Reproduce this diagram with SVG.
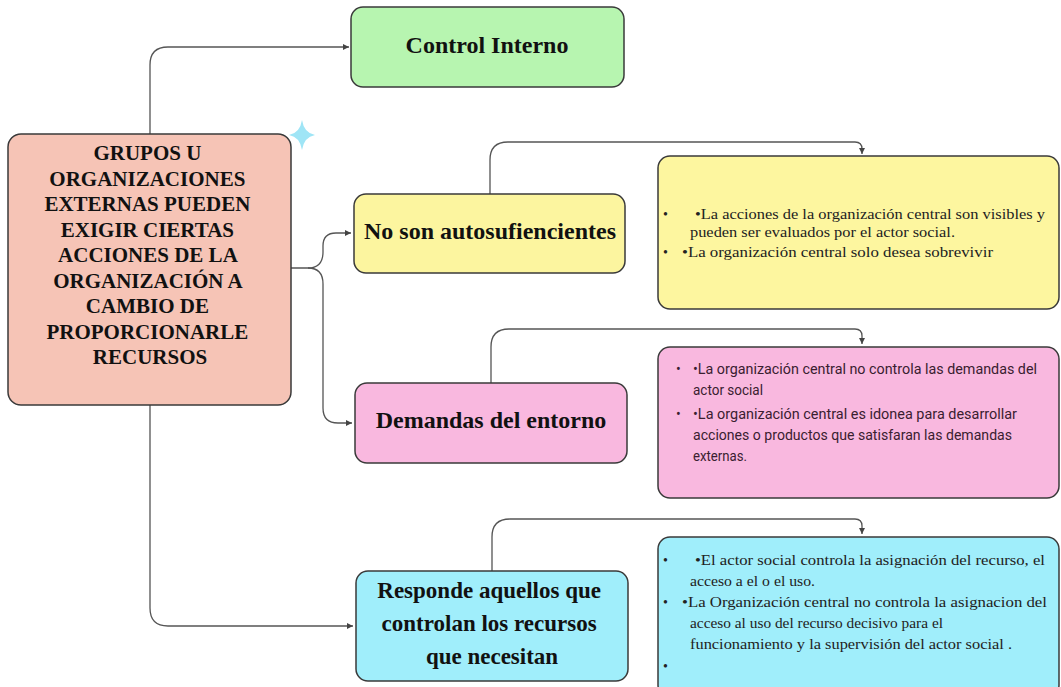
<svg xmlns="http://www.w3.org/2000/svg" width="1061" height="687" viewBox="0 0 1061 687">
<defs>
<marker id="arr" markerWidth="8" markerHeight="8" refX="6" refY="3" orient="auto" markerUnits="userSpaceOnUse">
<path d="M0,0 L6,3 L0,6 z" fill="#444"/>
</marker>
<style>
.box{stroke:#3a3a3a;stroke-width:1.5}
.conn{fill:none;stroke:#555;stroke-width:1.3}
.title{font-family:"Liberation Serif",serif;font-weight:bold;fill:#111;text-anchor:middle}
.det{font-family:"Liberation Serif",serif;font-size:14px;fill:#222}
.dets{font-family:Roboto,"Noto Sans",sans-serif;font-size:14px;fill:#3a2030}
</style>
</defs>
<rect width="1061" height="687" fill="#ffffff"/>

<g id="connectors">
<path class="conn" d="M150,134 V65 Q150,47 168,47 H349" marker-end="url(#arr)"/>
<path class="conn" d="M150,404 V608 Q150,626 168,626 H353" marker-end="url(#arr)"/>
<path class="conn" d="M291,268 H308 Q323,268 323,252 V246 Q323,233 336,233 H351" marker-end="url(#arr)"/>
<path class="conn" d="M308,268 Q323,268 323,284 V408 Q323,423 338,423 H352" marker-end="url(#arr)"/>
<path class="conn" d="M490,194 V160 Q490,142 508,142 H855 Q862,142 862,149 V154" marker-end="url(#arr)"/>
<path class="conn" d="M491,383 V347 Q491,329 509,329 H855 Q862,329 862,336 V344" marker-end="url(#arr)"/>
<path class="conn" d="M492,571 V537 Q492,519 510,519 H855 Q862,519 862,526 V534" marker-end="url(#arr)"/>
</g>

<g id="star">
<path d="M302,120 Q304,133 315,135 Q304,137 302,150 Q300,137 289,135 Q300,133 302,120 z" fill="#9fe5f6"/>
</g>

<g id="main">
<rect class="box" x="8" y="134" width="283" height="271" rx="13" fill="#f6c4b6"/>
<text class="title" font-size="21" x="150">
<tspan x="150" y="160">GRUPOS U</tspan>
<tspan x="150" y="185.5">ORGANIZACIONES</tspan>
<tspan x="150" y="211">EXTERNAS PUEDEN</tspan>
<tspan x="150" y="236.5">EXIGIR CIERTAS</tspan>
<tspan x="150" y="262">ACCIONES DE LA</tspan>
<tspan x="150" y="287.5">ORGANIZACIÓN A</tspan>
<tspan x="150" y="313">CAMBIO DE</tspan>
<tspan x="150" y="338.5">PROPORCIONARLE</tspan>
<tspan x="150" y="364">RECURSOS</tspan>
</text>
</g>

<g id="control-interno">
<rect class="box" x="351" y="7" width="273" height="80" rx="12" fill="#b7f5b0"/>
<text class="title" font-size="24" x="487" y="53">Control Interno</text>
</g>

<g id="no-son">
<rect class="box" x="354" y="194" width="271" height="79" rx="12" fill="#fcf59f"/>
<text class="title" font-size="24" x="490" y="239">No son autosufiencientes</text>
</g>

<g id="demandas">
<rect class="box" x="355" y="383" width="272" height="80" rx="12" fill="#f9b8df"/>
<text class="title" font-size="24" x="491" y="428">Demandas del entorno</text>
</g>

<g id="responde">
<rect class="box" x="356" y="571" width="272" height="110" rx="12" fill="#a0eefb"/>
<text class="title" font-size="23">
<tspan x="492" y="598">Responde aquellos que</tspan>
<tspan x="492" y="631">controlan los recursos</tspan>
<tspan x="492" y="664">que necesitan</tspan>
</text>
</g>

<g id="detalle-no-son">
<rect class="box" x="658" y="156" width="401" height="153" rx="12" fill="#fdf69f"/>
<text class="det" x="663" y="219">•</text>
<text class="det" x="695" y="219" textLength="350" lengthAdjust="spacingAndGlyphs">•La acciones de la organización central son visibles y</text>
<text class="det" x="690" y="237" textLength="265" lengthAdjust="spacingAndGlyphs">pueden ser evaluados por el actor social.</text>
<text class="det" x="663" y="257">•</text>
<text class="det" x="682" y="257" textLength="311" lengthAdjust="spacingAndGlyphs">•La organización central solo desea sobrevivir</text>
</g>

<g id="detalle-demandas">
<rect class="box" x="658" y="347" width="401" height="151" rx="12" fill="#f9b8df"/>
<text class="dets" x="676" y="374">•</text>
<text class="dets" x="693" y="374" textLength="344" lengthAdjust="spacingAndGlyphs">•La organización central no controla las demandas del</text>
<text class="dets" x="693" y="395" textLength="70" lengthAdjust="spacingAndGlyphs">actor social</text>
<text class="dets" x="676" y="419">•</text>
<text class="dets" x="693" y="419" textLength="324" lengthAdjust="spacingAndGlyphs">•La organización central es idonea para desarrollar</text>
<text class="dets" x="693" y="440" textLength="319" lengthAdjust="spacingAndGlyphs">acciones o productos que satisfaran las demandas</text>
<text class="dets" x="693" y="461" textLength="54" lengthAdjust="spacingAndGlyphs">externas.</text>
</g>

<g id="detalle-responde">
<rect class="box" x="658" y="537" width="401" height="160" rx="12" fill="#a0eefb"/>
<text class="det" x="663" y="565">•</text>
<text class="det" x="695" y="565" textLength="350" lengthAdjust="spacingAndGlyphs">•El actor social controla la asignación del recurso, el</text>
<text class="det" x="690" y="586" textLength="125" lengthAdjust="spacingAndGlyphs">acceso a el o el uso.</text>
<text class="det" x="663" y="607">•</text>
<text class="det" x="682" y="607" textLength="365" lengthAdjust="spacingAndGlyphs">•La Organización central no controla la asignacion del</text>
<text class="det" x="690" y="628" textLength="253" lengthAdjust="spacingAndGlyphs">acceso al uso del recurso decisivo para el</text>
<text class="det" x="690" y="649" textLength="322" lengthAdjust="spacingAndGlyphs">funcionamiento y la supervisión del actor social .</text>
<text class="det" x="663" y="671">•</text>
</g>
</svg>
